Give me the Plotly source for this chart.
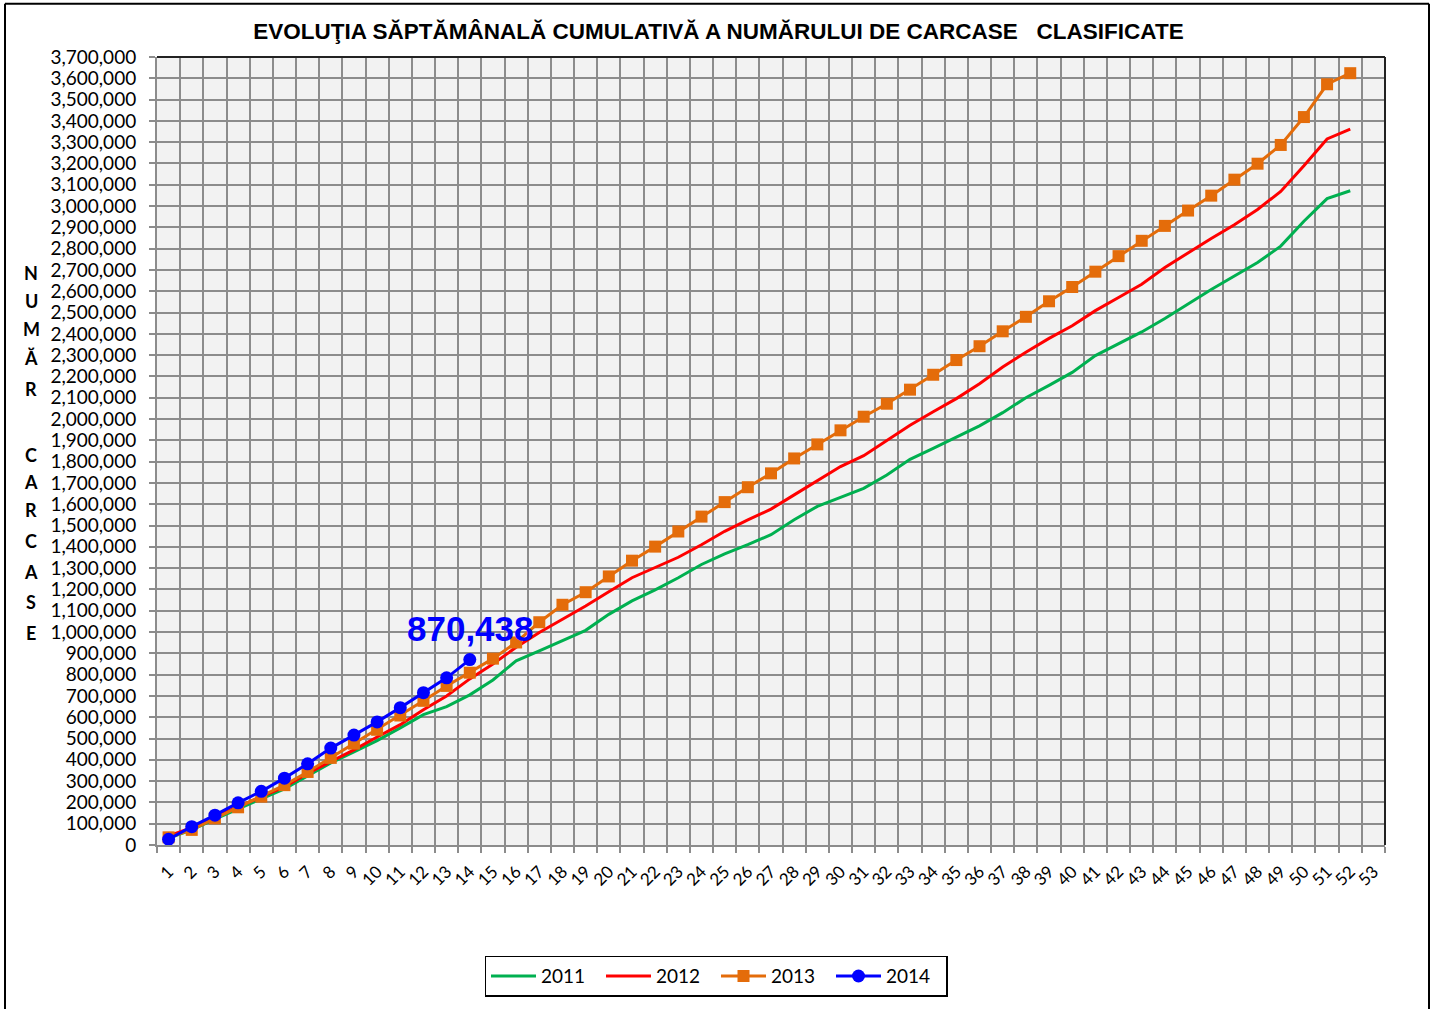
import plotly.graph_objects as go

weeks = [str(i) for i in range(1, 54)]

v2011 = [32000, 71000, 121000, 170000, 217000, 263000, 325000, 385000, 437000, 490000,
         550000, 612000, 650000, 705000, 775000, 865000, 912000, 960000, 1008000, 1083000,
         1146000, 1198000, 1255000, 1317000, 1367000, 1410000, 1457000, 1527000, 1590000, 1632000,
         1675000, 1737000, 1811000, 1862000, 1915000, 1968000, 2030000, 2100000, 2158000, 2219000,
         2298000, 2353000, 2409000, 2472000, 2542000, 2608000, 2672000, 2735000, 2812000, 2929000,
         3035000, 3072000]

v2012 = [43000, 82000, 133000, 180000, 227000, 273000, 336000, 392000, 447000, 507000,
         565000, 635000, 700000, 780000, 850000, 928000, 998000, 1060000, 1122000, 1189000,
         1255000, 1303000, 1351000, 1410000, 1473000, 1527000, 1577000, 1644000, 1711000, 1777000,
         1828000, 1901000, 1971000, 2034000, 2096000, 2166000, 2244000, 2314000, 2379000, 2438000,
         2509000, 2571000, 2633000, 2712000, 2782000, 2848000, 2912000, 2984000, 3069000, 3189000,
         3315000, 3361000]

v2013 = [36000, 71000, 125000, 177000, 227000, 281000, 343000, 409000, 476000, 541000,
         608000, 677000, 747000, 809000, 875000, 951000, 1046000, 1128000, 1187000, 1261000,
         1335000, 1401000, 1472000, 1542000, 1610000, 1680000, 1745000, 1815000, 1881000, 1947000,
         2011000, 2072000, 2138000, 2208000, 2277000, 2342000, 2412000, 2480000, 2553000, 2620000,
         2692000, 2765000, 2837000, 2907000, 2979000, 3049000, 3124000, 3199000, 3287000, 3418000,
         3572000, 3624000]

v2014 = [27000, 86000, 140000, 198000, 252000, 314000, 381000, 455000, 516000, 578000,
         645000, 715000, 785000, 870438]

title_text = "EVOLUŢIA SĂPTĂMÂNALĂ CUMULATIVĂ A NUMĂRULUI DE CARCASE   CLASIFICATE"
ylabel_letters = ["N", "U", "M", "Ă", "R", "C", "A", "R", "C", "A", "S", "E"]
ylabel_pix = [274, 302, 330, 360, 391, 457, 484, 512, 544, 575, 605, 636]

W, H = 1437, 1009
K = 1.0069  # vertical compensation
L, R, T, B = 157, 52, 57, 153.5
PH = H - T - B
PW = W - L - R

def py(p):
    return (H - B - p * K) / PH

def px(p):
    return (p - L) / PW

fig = go.Figure()
fig.add_trace(go.Scatter(x=weeks[:len(v2011)], y=v2011, name="2011", mode="lines",
                         line=dict(color="#00b050", width=3)))
fig.add_trace(go.Scatter(x=weeks[:len(v2012)], y=v2012, name="2012", mode="lines",
                         line=dict(color="#ff0000", width=3)))
fig.add_trace(go.Scatter(x=weeks[:len(v2013)], y=v2013, name="2013", mode="lines+markers",
                         line=dict(color="#e46c0a", width=3),
                         marker=dict(symbol="square", size=12, color="#e46c0a")))
fig.add_trace(go.Scatter(x=weeks[:len(v2014)], y=v2014, name="2014", mode="lines+markers",
                         line=dict(color="#0000ff", width=3),
                         marker=dict(symbol="circle", size=13, color="#0000ff")))

fig.add_annotation(x=weeks[len(v2014) - 1], y=v2014[-1], text=f"<b>{v2014[-1]:,}</b>",
                   showarrow=False, yshift=31, xshift=-22, xanchor="center", yanchor="middle",
                   font=dict(family="Liberation Sans, Arial", size=35, color="#0000ff"))

for letter, p in zip(ylabel_letters, ylabel_pix):
    fig.add_annotation(x=px(31), y=py(p), xref="paper", yref="paper", text=f"<b>{letter}</b>",
                       showarrow=False, xanchor="center", yanchor="middle",
                       font=dict(family="Lato, Liberation Sans", size=18, color="black"))

# outer frame (left, top, right; bottom lies beyond the page)
frame = dict(color="black", width=2)
fig.add_shape(type="line", xref="paper", yref="paper", x0=px(5), x1=px(5), y0=py(1040), y1=py(3), line=frame)
fig.add_shape(type="line", xref="paper", yref="paper", x0=px(5), x1=px(1429), y0=py(3), y1=py(3), line=frame)
fig.add_shape(type="line", xref="paper", yref="paper", x0=px(1429), x1=px(1429), y0=py(1040), y1=py(3), line=frame)
# top and right borders of plot area
fig.add_shape(type="line", xref="paper", yref="paper", x0=0, x1=1, y0=1, y1=1,
              line=dict(color="#222", width=2))
fig.add_shape(type="line", xref="paper", yref="paper", x0=1, x1=1, y0=0, y1=1,
              line=dict(color="#222", width=2))

fig.update_layout(
    width=W, height=H,
    margin=dict(l=L, r=R, t=T, b=B),
    paper_bgcolor="white",
    plot_bgcolor="#f2f2f2",
    title=dict(text=f"<b>{title_text}</b>", x=0.5, xanchor="center", y=1 - 31 * K / H, yanchor="middle",
               font=dict(family="Liberation Sans, Arial", size=22.5, color="black")),
    showlegend=True,
    legend=dict(orientation="h", x=px(716), y=py(961), xanchor="center", yanchor="top",
                bordercolor="black", borderwidth=1.5, bgcolor="white",
                font=dict(family="Lato, Liberation Sans", size=19, color="black"),
                entrywidth=55, entrywidthmode="pixels", itemwidth=45),
    xaxis=dict(type="category", categoryorder="array", categoryarray=weeks,
               range=[-0.5, len(weeks) - 0.5], tickson="boundaries",
               showgrid=True, gridcolor="#8c8c8c", gridwidth=2,
               showline=True, linecolor="#8c8c8c", linewidth=2,
               ticks="outside", ticklen=6, tickcolor="#8c8c8c", tickwidth=2,
               tickangle=-45, ticklabelstandoff=8,
               tickfont=dict(family="Lato, Liberation Sans", size=17, color="black"),
               fixedrange=True),
    yaxis=dict(range=[0, 3700000], dtick=100000, tick0=0, tickformat=",d",
               showgrid=True, gridcolor="#8c8c8c", gridwidth=2, zeroline=False,
               showline=True, linecolor="#8c8c8c", linewidth=2,
               ticks="outside", ticklen=6, tickcolor="#8c8c8c", tickwidth=2,
               ticklabelstandoff=9,
               tickfont=dict(family="Lato, Liberation Sans", size=19, color="black"),
               fixedrange=True),
)

fig.write_html("out.html", config={"displayModeBar": False},
               post_script="document.documentElement.style.overflow='hidden';"
                           "document.body.style.margin='0';document.body.style.padding='0';"
                           "document.body.style.overflow='hidden';")
